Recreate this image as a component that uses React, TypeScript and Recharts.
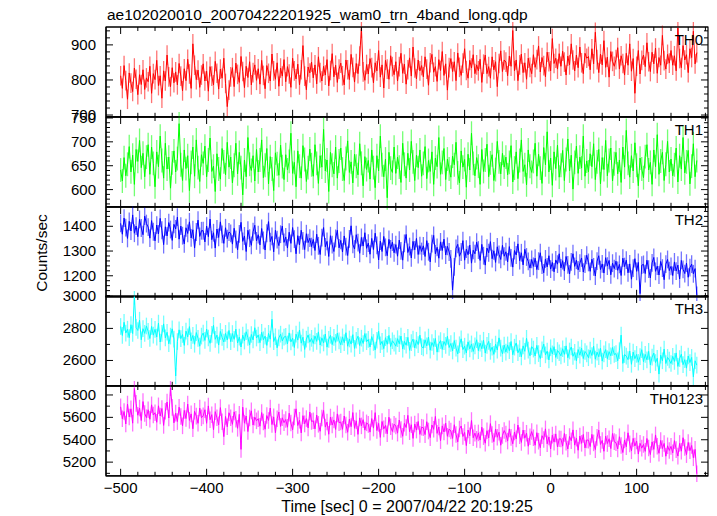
import { LineChart, Line, XAxis, YAxis, ErrorBar, ReferenceArea, ReferenceLine } from "recharts";

// time grid: 2 s bins starting at -500 s
const tStart = -500;
const tStep = 2;

const xMajor = [-500, -400, -300, -200, -100, 0, 100];

// TH0 counts/sec
const th0 = [
  812, 776, 841, 798, 745, 820, 791, 767, 834, 802, 758, 815, 787, 829, 773, 806,
  795, 839, 762, 818, 801, 856, 784, 812, 748, 826, 797, 871, 809, 781, 835, 792,
  823, 786, 847, 811, 769, 832, 798, 859, 817, 776, 903, 842, 801, 828, 779, 814,
  846, 797, 825, 768, 838, 811, 786, 853, 819, 774, 831, 805, 862, 790, 724, 771,
  809, 835, 781, 848, 816, 793, 867, 824, 778, 839, 807, 852, 786, 821, 843, 799,
  832, 788, 856, 813, 775, 841, 819, 797, 874, 826, 802, 849, 782, 834, 811, 858,
  795, 838, 817, 779, 862, 826, 803, 845, 786, 829, 898, 811, 772, 837, 820, 851,
  806, 843, 789, 866, 821, 797, 839, 814, 858, 783, 827, 875, 809, 842, 793, 831,
  848, 812, 786, 857, 829, 801, 873, 836, 794, 847, 818, 868, 947, 823, 799, 844,
  817, 861, 835, 792, 849, 826, 884, 808, 843, 777, 856, 831, 802, 869, 838, 815,
  852, 797, 838, 876, 819, 845, 788, 829, 863, 811, 894, 834, 803, 857, 826, 841,
  809, 866, 831, 785, 849, 873, 822, 838, 796, 858, 827, 881, 813, 846, 771, 835,
  861, 824, 852, 798, 877, 836, 813, 848, 889, 827, 805, 856, 834, 872, 818, 843,
  826, 859, 793, 845, 871, 818, 838, 805, 866, 829, 852, 781, 847, 883, 824, 857,
  851, 812, 868, 839, 941, 826, 857, 798, 843, 874, 821, 849, 802, 862, 836, 818,
  872, 836, 858, 897, 823, 864, 841, 809, 879, 852, 826, 918, 847, 862, 831, 875,
  839, 882, 851, 814, 868, 843, 903, 857, 826, 871, 835, 894, 849, 818, 876, 862,
  867, 829, 889, 846, 936, 858, 821, 874, 843, 912, 836, 865, 808, 881, 853, 839,
  858, 892, 831, 869, 847, 814, 876, 842, 903, 825, 861, 762, 839, 884, 817, 856,
  871, 838, 906, 852, 824, 879, 846, 891, 819, 864, 842, 927, 855, 831, 873, 848,
  884, 842, 869, 826, 948, 861, 835, 898, 857, 872, 821, 889, 864, 939, 846, 878,
];

// TH1
const th1 = [
  641, 618, 667, 629, 653, 690, 637, 672, 611, 684, 659, 703, 646, 676, 627, 668,
  694, 632, 689, 655, 606, 679, 648, 712, 661, 624, 697, 643, 668, 603, 656, 681,
  637, 665, 738, 652, 619, 683, 644, 671, 598, 657, 689, 628, 704, 646, 617, 673,
  655, 691, 627, 662, 708, 638, 649, 596, 675, 643, 622, 686, 658, 631, 699, 647,
  668, 614, 651, 697, 633, 678, 646, 589, 662, 627, 709, 653, 640, 671, 618, 684,
  637, 662, 704, 625, 651, 686, 612, 669, 643, 598, 677, 654, 630, 693, 648, 621,
  673, 641, 659, 718, 634, 657, 606, 681, 649, 624, 692, 663, 617, 646, 685, 652,
  628, 694, 655, 613, 671, 647, 726, 639, 662, 596, 678, 651, 633, 689, 624, 660,
  687, 643, 619, 665, 702, 636, 658, 614, 674, 649, 631, 696, 655, 608, 669, 642,
  661, 622, 683, 646, 604, 671, 639, 712, 652, 627, 664, 583, 678, 645, 636, 689,
  634, 668, 647, 615, 697, 653, 624, 676, 641, 701, 658, 619, 672, 646, 683, 628,
  655, 690, 623, 661, 638, 679, 611, 666, 648, 709, 632, 657, 686, 621, 664, 643,
  626, 670, 652, 699, 635, 614, 681, 647, 663, 605, 674, 641, 718, 655, 629, 667,
  649, 611, 684, 638, 662, 695, 627, 656, 673, 619, 642, 701, 658, 633, 676, 647,
  668, 631, 657, 692, 616, 645, 679, 623, 661, 704, 638, 652, 610, 683, 649, 636,
  659, 697, 628, 674, 645, 613, 688, 652, 721, 637, 666, 609, 679, 644, 693, 626,
  651, 682, 619, 663, 706, 639, 672, 601, 657, 691, 634, 668, 645, 712, 628, 660,
  637, 675, 648, 696, 621, 658, 684, 612, 667, 642, 703, 629, 661, 687, 618, 654,
  678, 633, 662, 615, 689, 647, 724, 655, 626, 671, 639, 698, 651, 608, 666, 643,
  625, 669, 694, 641, 657, 611, 683, 648, 715, 632, 660, 678, 619, 653, 701, 637,
  664, 629, 652, 687, 616, 671, 643, 709, 635, 658, 682, 612, 649, 696, 627, 661,
];

// TH2
const th2 = [
  1412, 1368, 1433, 1395, 1351, 1420, 1381, 1446, 1372, 1401, 1358, 1428, 1393, 1366, 1441, 1411,
  1397, 1352, 1423, 1378, 1341, 1405, 1369, 1432, 1384, 1326, 1398, 1361, 1415, 1387, 1343, 1408,
  1389, 1437, 1348, 1401, 1362, 1329, 1394, 1371, 1418, 1353, 1386, 1312, 1377, 1425, 1359, 1382,
  1382, 1337, 1401, 1358, 1429, 1346, 1374, 1312, 1389, 1355, 1418, 1367, 1331, 1394, 1350, 1377,
  1371, 1328, 1392, 1347, 1305, 1369, 1416, 1339, 1361, 1298, 1384, 1352, 1323, 1378, 1404, 1341,
  1366, 1325, 1391, 1343, 1304, 1372, 1419, 1338, 1359, 1297, 1384, 1346, 1322, 1368, 1401, 1335,
  1357, 1312, 1376, 1331, 1395, 1348, 1289, 1362, 1325, 1384, 1341, 1306, 1370, 1334, 1352, 1318,
  1347, 1302, 1368, 1321, 1286, 1354, 1395, 1317, 1339, 1278, 1362, 1326, 1298, 1351, 1384, 1313,
  1343, 1296, 1361, 1318, 1282, 1349, 1402, 1327, 1308, 1366, 1334, 1291, 1355, 1320, 1374, 1311,
  1332, 1287, 1351, 1306, 1372, 1323, 1264, 1340, 1298, 1359, 1315, 1281, 1347, 1309, 1336, 1293,
  1326, 1279, 1344, 1301, 1263, 1331, 1367, 1294, 1318, 1272, 1339, 1305, 1351, 1286, 1322, 1298,
  1321, 1278, 1342, 1297, 1256, 1330, 1363, 1289, 1315, 1271, 1337, 1302, 1348, 1284, 1319, 1296,
  1268, 1142, 1236, 1311, 1327, 1279, 1296, 1342, 1263, 1308, 1285, 1324, 1251, 1303, 1289, 1336,
  1304, 1262, 1327, 1281, 1243, 1312, 1293, 1338, 1269, 1301, 1254, 1317, 1286, 1266, 1323, 1279,
  1297, 1256, 1318, 1272, 1235, 1302, 1284, 1329, 1261, 1293, 1244, 1307, 1276, 1258, 1231, 1266,
  1238, 1271, 1225, 1259, 1293, 1243, 1212, 1268, 1236, 1281, 1227, 1254, 1216, 1264, 1247, 1289,
  1232, 1261, 1219, 1278, 1244, 1207, 1256, 1289, 1238, 1263, 1224, 1251, 1272, 1215, 1247, 1283,
  1254, 1218, 1267, 1236, 1199, 1259, 1281, 1225, 1248, 1211, 1273, 1239, 1262, 1204, 1251, 1229,
  1259, 1222, 1246, 1201, 1271, 1237, 1263, 1212, 1248, 1186, 1231, 1269, 1218, 1254, 1128, 1243,
  1246, 1209, 1263, 1227, 1191, 1252, 1274, 1218, 1239, 1203, 1258, 1231, 1184, 1247, 1266, 1221,
  1238, 1201, 1256, 1219, 1243, 1187, 1262, 1226, 1209, 1251, 1194, 1233, 1247, 1208, 1229, 1121,
];

// TH3
const th3 = [
  2812, 2756, 2838, 2771, 2795, 2742, 2823, 2768, 3000, 2806, 2787, 2851, 2729, 2798, 2769, 2815,
  2781, 2737, 2812, 2758, 2794, 2746, 2833, 2715, 2769, 2828, 2741, 2776, 2704, 2752, 2797, 2733,
  2503, 2718, 2791, 2736, 2762, 2694, 2783, 2747, 2811, 2723, 2756, 2701, 2774, 2738, 2689, 2752,
  2771, 2725, 2796, 2740, 2707, 2763, 2819, 2732, 2758, 2696, 2781, 2744, 2715, 2769, 2728, 2787,
  2717, 2768, 2732, 2795, 2709, 2746, 2684, 2758, 2721, 2779, 2743, 2696, 2762, 2728, 2804, 2740,
  2759, 2711, 2776, 2729, 2752, 2694, 2769, 2733, 2857, 2718, 2748, 2679, 2741, 2764, 2722, 2746,
  2751, 2703, 2772, 2716, 2739, 2681, 2764, 2727, 2790, 2708, 2745, 2669, 2733, 2759, 2714, 2738,
  2706, 2753, 2719, 2778, 2696, 2741, 2709, 2765, 2683, 2731, 2757, 2699, 2744, 2713, 2771, 2722,
  2698, 2747, 2711, 2773, 2689, 2734, 2702, 2761, 2675, 2726, 2751, 2693, 2739, 2706, 2768, 2717,
  2731, 2684, 2749, 2712, 2665, 2726, 2783, 2698, 2719, 2674, 2742, 2701, 2756, 2687, 2723, 2708,
  2689, 2736, 2704, 2752, 2671, 2719, 2695, 2744, 2663, 2711, 2733, 2678, 2726, 2699, 2758, 2686,
  2678, 2729, 2691, 2746, 2664, 2712, 2687, 2737, 2652, 2703, 2724, 2669, 2718, 2694, 2751, 2681,
  2706, 2659, 2724, 2677, 2641, 2698, 2735, 2668, 2689, 2647, 2716, 2672, 2703, 2656, 2691, 2729,
  2661, 2708, 2673, 2726, 2646, 2694, 2719, 2657, 2683, 2638, 2702, 2665, 2741, 2677, 2642, 2696,
  2652, 2697, 2661, 2718, 2636, 2683, 2709, 2648, 2674, 2622, 2691, 2657, 2738, 2665, 2629, 2686,
  2671, 2628, 2694, 2643, 2612, 2667, 2702, 2635, 2658, 2603, 2679, 2641, 2686, 2619, 2662, 2648,
  2629, 2673, 2638, 2691, 2617, 2659, 2684, 2626, 2651, 2598, 2668, 2633, 2677, 2612, 2656, 2641,
  2617, 2664, 2631, 2689, 2608, 2652, 2623, 2676, 2596, 2641, 2668, 2611, 2655, 2629, 2681, 2637,
  2643, 2598, 2661, 2758, 2582, 2637, 2627, 2605, 2659, 2576, 2652, 2611, 2638, 2589, 2624, 2667,
  2592, 2638, 2604, 2657, 2573, 2621, 2646, 2587, 2614, 2515, 2633, 2598, 2671, 2581, 2619, 2603,
  2581, 2626, 2594, 2647, 2563, 2612, 2639, 2574, 2605, 2552, 2628, 2587, 2619, 2498, 2598, 2571,
];

// TH0123 (sum of bands)
const th0123 = [
  5694, 5587, 5652, 5541, 5719, 5603, 5676, 5548, 5858, 5725, 5619, 5683, 5572, 5741, 5634, 5597,
  5668, 5583, 5712, 5621, 5641, 5556, 5703, 5612, 5679, 5528, 5654, 5737, 5594, 5865, 5689, 5551,
  5638, 5562, 5691, 5607, 5524, 5662, 5589, 5718, 5573, 5631, 5498, 5654, 5611, 5547, 5683, 5596,
  5613, 5668, 5547, 5702, 5579, 5624, 5489, 5651, 5596, 5533, 5687, 5561, 5428, 5608, 5516, 5641,
  5597, 5538, 5649, 5583, 5502, 5627, 5314, 5691, 5548, 5612, 5473, 5594, 5658, 5531, 5602, 5569,
  5588, 5521, 5643, 5559, 5494, 5616, 5572, 5683, 5536, 5604, 5462, 5587, 5648, 5519, 5596, 5553,
  5581, 5512, 5637, 5549, 5488, 5603, 5676, 5527, 5574, 5461, 5615, 5542, 5589, 5506, 5648, 5563,
  5569, 5497, 5621, 5538, 5476, 5594, 5662, 5513, 5558, 5449, 5603, 5531, 5577, 5492, 5631, 5552,
  5558, 5493, 5612, 5531, 5467, 5584, 5517, 5643, 5502, 5569, 5448, 5595, 5524, 5579, 5486, 5551,
  5537, 5468, 5589, 5504, 5642, 5482, 5546, 5421, 5563, 5497, 5528, 5453, 5601, 5516, 5474, 5539,
  5523, 5459, 5576, 5491, 5431, 5547, 5509, 5618, 5472, 5534, 5412, 5541, 5486, 5563, 5448, 5512,
  5507, 5446, 5561, 5478, 5419, 5532, 5493, 5608, 5457, 5514, 5392, 5524, 5469, 5548, 5431, 5496,
  5478, 5412, 5534, 5447, 5381, 5496, 5523, 5429, 5465, 5348, 5487, 5436, 5572, 5418, 5459, 5403,
  5461, 5397, 5512, 5428, 5369, 5481, 5416, 5544, 5447, 5383, 5496, 5422, 5467, 5351, 5438, 5482,
  5452, 5388, 5497, 5421, 5364, 5469, 5408, 5531, 5437, 5376, 5486, 5414, 5458, 5342, 5427, 5473,
  5418, 5351, 5463, 5387, 5329, 5436, 5402, 5497, 5364, 5425, 5318, 5441, 5379, 5452, 5336, 5409,
  5407, 5343, 5456, 5378, 5318, 5429, 5391, 5488, 5352, 5414, 5306, 5433, 5368, 5447, 5327, 5398,
  5396, 5339, 5448, 5372, 5312, 5421, 5486, 5358, 5394, 5297, 5432, 5366, 5409, 5321, 5456, 5383,
  5374, 5318, 5427, 5349, 5286, 5398, 5337, 5462, 5363, 5301, 5412, 5344, 5389, 5272, 5368, 5325,
  5358, 5296, 5411, 5327, 5268, 5381, 5314, 5443, 5342, 5279, 5394, 5321, 5367, 5253, 5346, 5304,
  5341, 5283, 5392, 5312, 5254, 5367, 5298, 5418, 5331, 5267, 5376, 5302, 5349, 5239, 5314, 5096,
];

// 1-sigma errors per band
const errTH0 = 28;
const errTH1 = 25;
const errTH2 = 36;
const errTH3 = 52;
const errTH0123 = 74;

const W = 717;
const H = 516;
const LEFT = 106;
const RIGHT = 708;
const TOP = 27;
const PANEL_H = 89.8;
const PAD = 4;
const AX = 1; // thin axis band so recharts draws the top/bottom axes
const X_DOMAIN: [number, number] = [-517, 183];
const PX_PER_SEC = (RIGHT - LEFT) / (X_DOMAIN[1] - X_DOMAIN[0]);
const FONT = '"Liberation Sans", Arial, Helvetica, sans-serif';

const panels = [
  { name: "TH0", values: th0, err: errTH0, color: "#ff0000", domain: [695, 951], labels: [700, 800, 900], minor: 20 },
  { name: "TH1", values: th1, err: errTH1, color: "#00ff00", domain: [564, 752], labels: [600, 650, 700, 750], minor: 10 },
  { name: "TH2", values: th2, err: errTH2, color: "#0000ff", domain: [1115, 1478], labels: [1200, 1300, 1400], minor: 20 },
  { name: "TH3", values: th3, err: errTH3, color: "#00ffff", domain: [2442, 3002], labels: [2600, 2800, 3000], minor: 100 },
  { name: "TH0123", values: th0123, err: errTH0123, color: "#ff00ff", domain: [5078, 5880], labels: [5200, 5400, 5600, 5800], minor: 100 },
];

const xTicks: number[] = [];
for (let v = -500; v <= 180; v += 20) xTicks.push(v);

const fmt = (v: number) => (v < 0 ? "\u2212" + Math.abs(v) : String(v));

function XTick(props: any) {
  const { x, y, payload, dir, showLabel } = props;
  const v = payload.value;
  const major = xMajor.includes(v);
  const len = major ? 7 : 4;
  return (
    <g>
      <path d={`M${x},${y}L${x},${y + dir * len}`} stroke="#000" strokeWidth={1} fill="none" />
      {showLabel && major && (
        <text x={x} y={y + 17} textAnchor="middle" fontSize={15} fontFamily={FONT} fill="#000">
          {fmt(v)}
        </text>
      )}
    </g>
  );
}

function YLabel(props: any) {
  const { x, y, payload, labels } = props;
  const v = payload.value;
  if (!labels.includes(v)) return <g />;
  return (
    <text x={x - 10} y={y + 5} textAnchor="end" fontSize={15} fontFamily={FONT} fill="#000">
      {v}
    </text>
  );
}

function Panel({ p, idx }: { p: (typeof panels)[number]; idx: number }) {
  const last = idx === panels.length - 1;
  const data = p.values.map((v, i) => ({ t: tStart + i * tStep, v, e: p.err }));
  const yTicks: number[] = [];
  for (let v = Math.ceil(p.domain[0] / p.minor) * p.minor; v <= p.domain[1]; v += p.minor) yTicks.push(v);
  const bottomH = last ? 40 : AX;
  const height = PAD + AX + PANEL_H + bottomH + (last ? 0 : PAD);
  // inward y ticks on both frame edges, placed through the chart's scales
  const tickMarks = yTicks.flatMap((v) => {
    const len = (p.labels.includes(v) ? 7 : 4) / PX_PER_SEC;
    return [
      { key: `l${v}`, seg: [{ x: X_DOMAIN[0], y: v }, { x: X_DOMAIN[0] + len, y: v }] },
      { key: `r${v}`, seg: [{ x: X_DOMAIN[1] - len, y: v }, { x: X_DOMAIN[1], y: v }] },
    ];
  });
  return (
    <div style={{ position: "absolute", left: 0, top: TOP + idx * PANEL_H - PAD - AX }}>
      <LineChart
        width={W}
        height={height}
        data={data}
        margin={{ top: PAD, right: W - RIGHT, bottom: last ? 0 : PAD, left: 0 }}
      >
        <XAxis
          xAxisId="b"
          dataKey="t"
          type="number"
          domain={X_DOMAIN}
          allowDataOverflow
          ticks={xTicks}
          interval={0}
          tickSize={0}
          tickMargin={0}
          height={bottomH}
          axisLine={{ stroke: "#000", strokeWidth: 1.2 }}
          tickLine={false}
          tick={(tp: any) => <XTick {...tp} dir={-1} showLabel={last} />}
        />
        <XAxis
          xAxisId="t"
          orientation="top"
          dataKey="t"
          type="number"
          domain={X_DOMAIN}
          allowDataOverflow
          ticks={xTicks}
          interval={0}
          tickSize={0}
          tickMargin={0}
          height={AX}
          axisLine={{ stroke: "#000", strokeWidth: 1.2 }}
          tickLine={false}
          tick={(tp: any) => <XTick {...tp} dir={1} showLabel={false} />}
        />
        <YAxis
          yAxisId="l"
          type="number"
          domain={p.domain}
          allowDataOverflow
          ticks={yTicks}
          interval={0}
          tickSize={0}
          tickMargin={0}
          width={LEFT}
          axisLine={{ stroke: "#000", strokeWidth: 1.2 }}
          tickLine={false}
          tick={(tp: any) => <YLabel {...tp} labels={p.labels} />}
        />
        <ReferenceArea
          xAxisId="b"
          yAxisId="l"
          x1={X_DOMAIN[0]}
          x2={X_DOMAIN[1]}
          y1={p.domain[0]}
          y2={p.domain[1]}
          fill="none"
          stroke="#000"
          strokeWidth={1.2}
          ifOverflow="visible"
        />
        {tickMarks.map((m) => (
          <ReferenceLine
            key={m.key}
            xAxisId="b"
            yAxisId="l"
            segment={m.seg}
            stroke="#000"
            strokeWidth={1}
            ifOverflow="visible"
          />
        ))}
        <Line
          xAxisId="b"
          yAxisId="l"
          dataKey="v"
          type="linear"
          stroke={p.color}
          strokeWidth={1}
          dot={false}
          isAnimationActive={false}
        >
          <ErrorBar
            dataKey="e"
            direction="y"
            width={0}
            stroke={p.color}
            strokeOpacity={0.55}
            strokeWidth={1.3}
            isAnimationActive={false}
          />
        </Line>
      </LineChart>
    </div>
  );
}

export default function App() {
  return (
    <div style={{ position: "absolute", left: 0, top: 0, width: W, height: H, background: "#fff" }}>
      {panels.map((p, i) => (
        <Panel key={p.name} p={p} idx={i} />
      ))}
      <svg
        width={W}
        height={H}
        style={{ position: "absolute", left: 0, top: 0, pointerEvents: "none" }}
        fontFamily={FONT}
      >
        <text x={107} y={20} fontSize={15.5} fill="#000">
          ae102020010_20070422201925_wam0_trn_4band_long.qdp
        </text>
        <text x={47} y={253} fontSize={15.5} fill="#000" textAnchor="middle" transform="rotate(-90 47 253)">
          Counts/sec
        </text>
        <text x={(LEFT + RIGHT) / 2} y={512} fontSize={16} fill="#000" textAnchor="middle">
          Time [sec] 0 = 2007/04/22 20:19:25
        </text>
        {panels.map((p, i) => (
          <text key={p.name} x={703} y={TOP + i * PANEL_H + 18} fontSize={15} fill="#000" textAnchor="end">
            {p.name}
          </text>
        ))}
      </svg>
    </div>
  );
}
